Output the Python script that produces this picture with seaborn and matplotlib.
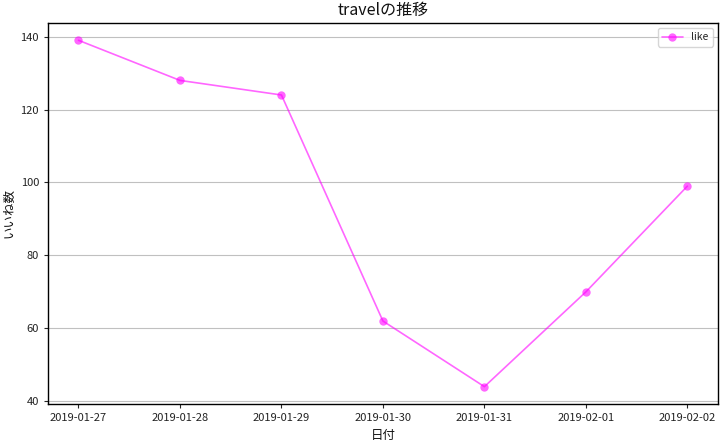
import matplotlib
matplotlib.use("Agg")
import matplotlib.pyplot as plt
import pandas as pd
import seaborn as sns

dates = ["2019-01-27", "2019-01-28", "2019-01-29", "2019-01-30",
         "2019-01-31", "2019-02-01", "2019-02-02"]
likes = [139, 128, 124, 62, 44, 70, 99]

sns.set_style("ticks")
plt.rcParams['font.family'] = ['Noto Sans CJK JP', 'DejaVu Sans']

df = pd.DataFrame({"date": dates, "like": likes})

fig, ax = plt.subplots(figsize=(7.28, 4.42), dpi=100)
sns.lineplot(data=df, x="date", y="like", ax=ax, color="#ff00ff", alpha=0.6,
             marker="o", markersize=6, markeredgewidth=0, linewidth=1.2,
             label="like")

ax.yaxis.grid(True, color="#c0c0c0", linewidth=0.8)
ax.set_axisbelow(True)
for s in ax.spines.values():
    s.set_color("black")
    s.set_linewidth(1.0)
ax.tick_params(labelsize=8, length=3, labelcolor="#222222")
ax.set_title("travelの推移", fontsize=11.5, color="#111111")
ax.set_xlabel("日付", fontsize=9, color="#111111")
ax.set_ylabel("いいね数", fontsize=9, color="#111111")
ax.legend(loc="upper right", fontsize=7.5)

plt.subplots_adjust(left=0.066, right=0.986, top=0.948, bottom=0.086)
fig.savefig("out.png", dpi=100)
